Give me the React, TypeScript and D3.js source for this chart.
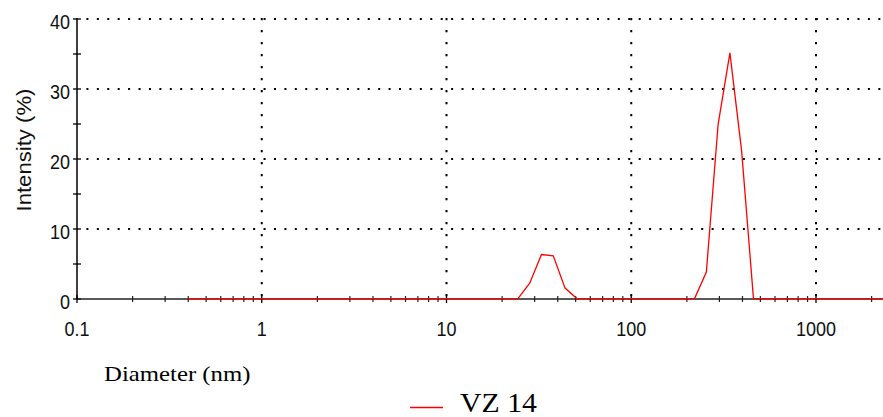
import React from 'react';
import * as d3 from 'd3';

// Zetasizer size bins (nm)
const diameters = [
  0.4, 0.4632, 0.5365, 0.6213, 0.7195, 0.8332, 0.9649, 1.117, 1.294, 1.499,
  1.736, 2.01, 2.328, 2.696, 3.122, 3.615, 4.187, 4.849, 5.615, 6.503,
  7.531, 8.721, 10.1, 11.7, 13.54, 15.69, 18.17, 21.04, 24.36, 28.21,
  32.67, 37.84, 43.82, 50.75, 58.77, 68.06, 78.82, 91.28, 105.7, 122.4,
  141.8, 164.2, 190.1, 220.2, 255.0, 295.3, 342.0, 396.1, 458.7, 531.2,
  615.1, 712.4, 825.0, 955.4, 1106, 1281, 1484, 1718, 1990, 2305,
  2669, 3091, 3580, 4145, 4801, 5560, 6439, 7456, 8635, 10000,
];

// Intensity (%) per bin
const intensities = [
  0, 0, 0, 0, 0, 0, 0, 0, 0, 0,
  0, 0, 0, 0, 0, 0, 0, 0, 0, 0,
  0, 0, 0, 0, 0, 0, 0, 0, 0, 2.2,
  6.3, 6.1, 1.5, 0, 0, 0, 0, 0, 0, 0,
  0, 0, 0, 0, 3.8, 24.9, 35.1, 21.0, 0, 0,
  0, 0, 0, 0, 0, 0, 0, 0, 0, 0,
  0, 0, 0, 0, 0, 0, 0, 0, 0, 0,
];

const xTickValues = [0.1, 1, 10, 100, 1000];
const xTickLabels = ['0.1', '1', '10', '100', '1000'];
const xGridValues = [1, 10, 100, 1000];
const yTickValues = [0, 10, 20, 30, 40];
const yTickLabels = ['0', '10', '20', '30', '40'];
const yMinorValues = [5, 15, 25, 35];
const yGridValues = [10, 20, 30, 40];
const xAxisTitle = 'Diameter (nm)';
const yAxisTitle = 'Intensity (%)';
const seriesName = 'VZ 14';

const SANS = 'Liberation Sans, Arial, sans-serif';
const SERIF = 'Liberation Serif, Times New Roman, serif';

export default function App() {
  const W = 883;
  const H = 417;
  const left = 77;
  const right = 883;
  const top = 19;
  const bottom = 299;
  const decade = 184.75;

  const x = d3.scaleLog().domain([0.1, 10000]).range([left, left + 5 * decade]);
  const y = d3.scaleLinear().domain([0, 40]).range([bottom, top]);

  const minor: number[] = [];
  for (let e = -1; e < 4; e++) {
    for (let m = 2; m <= 9; m++) {
      const v = m * Math.pow(10, e);
      if (x(v) <= right) minor.push(v);
    }
  }

  const line = d3
    .line<number>()
    .x((_, i) => x(diameters[i]))
    .y((d) => y(d));

  const hPeriod = 10.42;
  const vPeriod = 12;

  return (
    <svg
      width={W}
      height={H}
      style={{ position: 'absolute', left: 0, top: 0, background: '#fff' }}
    >
      <defs>
        <clipPath id="plotclip">
          <rect x={left} y={0} width={right - left} height={H} />
        </clipPath>
      </defs>
      <rect x={0} y={0} width={W} height={H} fill="#fff" />

      {/* horizontal dotted gridlines */}
      {yGridValues.map((v) => (
        <line
          key={'hg' + v}
          x1={left + hPeriod - 1}
          x2={right}
          y1={y(v)}
          y2={y(v)}
          stroke="#000"
          strokeWidth={2}
          strokeDasharray={`2 ${hPeriod - 2}`}
        />
      ))}
      {/* vertical dotted gridlines */}
      {xGridValues.map((v) => (
        <line
          key={'vg' + v}
          x1={x(v)}
          x2={x(v)}
          y1={top - 1}
          y2={bottom}
          stroke="#000"
          strokeWidth={2}
          strokeDasharray={`2.3 ${vPeriod - 2.3}`}
        />
      ))}

      {/* y axis */}
      <line x1={left} x2={left} y1={top - 1} y2={bottom} stroke="#000" strokeWidth={1.5} />
      {yTickValues.map((v) => (
        <line key={'yt' + v} x1={left - 4} x2={left + 4} y1={y(v)} y2={y(v)} stroke="#000" strokeWidth={1.3} />
      ))}
      {yMinorValues.map((v) => (
        <line key={'ym' + v} x1={left - 4} x2={left + 4} y1={y(v)} y2={y(v)} stroke="#000" strokeWidth={1.3} />
      ))}
      {yTickValues.map((v, i) => (
        <text
          key={'yl' + v}
          transform={`translate(70,${y(v) + 10}) scale(1,1.15)`}
          textAnchor="end"
          fontFamily={SANS}
          fontSize={18}
          fill="#111"
        >
          {yTickLabels[i]}
        </text>
      ))}

      {/* x axis */}
      <line x1={left} x2={right} y1={bottom} y2={bottom} stroke="#222" strokeWidth={1.5} />
      {xTickValues.map((v) => (
        <line key={'xt' + v} x1={x(v)} x2={x(v)} y1={bottom - 4} y2={bottom + 4} stroke="#000" strokeWidth={1.3} />
      ))}
      {minor.map((v) => (
        <line key={'xm' + v} x1={x(v)} x2={x(v)} y1={bottom - 3} y2={bottom + 3} stroke="#222" strokeWidth={1.2} />
      ))}
      {xTickValues.map((v, i) => (
        <text
          key={'xl' + v}
          transform={`translate(${x(v)},336) scale(1,1.15)`}
          textAnchor="middle"
          fontFamily={SANS}
          fontSize={18}
          fill="#111"
        >
          {xTickLabels[i]}
        </text>
      ))}

      {/* data line */}
      <g clipPath="url(#plotclip)">
        <path d={line(intensities) || ''} fill="none" stroke="#ff0000" strokeWidth={1.3} transform="translate(0,-0.4)" />
      </g>

      {/* axis titles */}
      <text
        transform="translate(31,150) rotate(-90) scale(1.08,1)"
        textAnchor="middle"
        fontFamily={SANS}
        fontSize={20.5}
        fill="#111"
      >
        {yAxisTitle}
      </text>
      <text
        transform="translate(104,381) scale(1.18,1)"
        fontFamily={SERIF}
        fontSize={21}
        fill="#000"
      >
        {xAxisTitle}
      </text>

      {/* legend */}
      <line x1={410} x2={443} y1={407.5} y2={407.5} stroke="#ff0000" strokeWidth={1.3} />
      <text
        transform="translate(460,412) scale(1.075,1)"
        fontFamily={SERIF}
        fontSize={27.7}
        fill="#000"
      >
        {seriesName}
      </text>
    </svg>
  );
}
